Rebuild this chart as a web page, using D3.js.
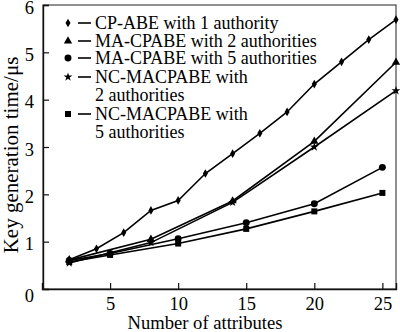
<!DOCTYPE html>
<html lang="en">
  <head>
    <meta charset="UTF-8" />
    <script src="https://cdnjs.cloudflare.com/ajax/libs/d3/7.8.5/d3.min.js"></script>
    <title>Key generation time</title>
    <style>
      body {
        margin: 0;
        background: white;
      }
      svg text {
        font-family: "Liberation Serif", "Times New Roman", Times, serif !important;
        fill: black;
      }
      .series {
        fill: none;
        stroke: black;
        stroke-width: 1.6;
      }
    </style>
  </head>
  <body>
    <script>
      const width = 400;
      const height = 332;

      // series values (key generation time, µs)
      const xCp = [2, 4, 6, 8, 10, 12, 14, 16, 18, 20, 22, 24, 26];
      const cpAbe = [0.62, 0.85, 1.19, 1.66, 1.87, 2.44, 2.86, 3.29, 3.74, 4.33, 4.8, 5.27, 5.69];
      const xEven = [2, 8, 14, 20, 26];
      const ma2 = [0.61, 1.05, 1.86, 3.12, 4.79];
      const nc2 = [0.55, 0.98, 1.83, 3.0, 4.19];
      const xFive = [2, 5, 10, 15, 20, 25];
      const ma5 = [0.6, 0.75, 1.06, 1.4, 1.8, 2.57];
      const nc5 = [0.57, 0.72, 0.96, 1.27, 1.64, 2.03];

      const xTicks = [5, 10, 15, 20, 25];
      const yTicks = [1, 2, 3, 4, 5, 6];

      const series = [
        { name: "CP-ABE with 1 authority", xs: xCp, ys: cpAbe, symbol: d3.symbolDiamond, size: 22 },
        { name: "MA-CPABE with 2 authorities", xs: xEven, ys: ma2, symbol: d3.symbolTriangle, size: 30 },
        { name: "MA-CPABE with 5 authorities", xs: xFive, ys: ma5, symbol: d3.symbolCircle, size: 38 },
        { name: "NC-MACPABE with", name2: "2 authorities", xs: xEven, ys: nc2, symbol: d3.symbolStar, size: 24 },
        { name: "NC-MACPABE with", name2: "5 authorities", xs: xFive, ys: nc5, symbol: d3.symbolSquare, size: 36 },
      ];

      const svg = d3
        .select("body")
        .append("svg")
        .attr("width", width)
        .attr("height", height);

      const x = d3.scaleLinear().domain([0, 26]).range([42, 396]);
      const y = d3.scaleLinear().domain([0, 6]).range([289, 5]);

      // frame
      svg
        .append("rect")
        .attr("x", x(0) + 1)
        .attr("y", y(6))
        .attr("width", x(26) - x(0) - 1)
        .attr("height", y(0) - y(6))
        .attr("fill", "none")
        .attr("stroke", "#222")
        .attr("stroke-width", 1);

      // axes with inward ticks
      const xAxis = svg
        .append("g")
        .attr("transform", `translate(0,${y(0)})`)
        .call(d3.axisBottom(x).tickValues(xTicks).tickFormat(d3.format("d")).tickSize(-6).tickPadding(8));
      const yAxis = svg
        .append("g")
        .attr("transform", `translate(${x(0) + 1},0)`)
        .call(d3.axisLeft(y).tickValues(yTicks).tickFormat(d3.format("d")).tickSize(-6).tickPadding(9));

      [xAxis, yAxis].forEach(function (g) {
        g.attr("font-family", null).attr("font-size", null);
        g.select(".domain").attr("stroke", "#111").attr("stroke-width", 1.4);
        g.selectAll(".tick line").attr("stroke", "#111").attr("stroke-width", 1.2);
        g.selectAll("text").style("font-size", "18.5px");
      });
      xAxis.selectAll("text").attr("dy", "0.68em");
      yAxis.selectAll("text").attr("dy", "0.45em");

      // "0" at the origin
      svg
        .append("text")
        .attr("x", 34)
        .attr("y", 302)
        .attr("text-anchor", "end")
        .style("font-size", "18.5px")
        .text("0");

      svg
        .append("text")
        .attr("x", 205)
        .attr("y", 329)
        .attr("text-anchor", "middle")
        .style("font-size", "18.6px")
        .text("Number of attributes");

      svg
        .append("text")
        .attr("transform", "translate(18,155) rotate(-90)")
        .attr("text-anchor", "middle")
        .style("font-size", "21px")
        .text("Key generation time/μs");

      const line = d3
        .line()
        .x(function (d) {
          return x(d[0]);
        })
        .y(function (d) {
          return y(d[1]);
        });

      series.forEach(function (s) {
        const pts = s.xs.map(function (v, i) {
          return [v, s.ys[i]];
        });
        svg.append("path").attr("class", "series").attr("d", line(pts));
        svg
          .append("g")
          .selectAll("path")
          .data(pts)
          .enter()
          .append("path")
          .attr("d", d3.symbol().type(s.symbol).size(s.size))
          .attr("transform", function (d) {
            return `translate(${x(d[0])},${y(d[1])})`;
          })
          .attr("fill", "black");
      });

      // legend
      const rows = [23, 41, 58, 77, 114];
      const legend = svg.append("g");
      series.forEach(function (s, i) {
        const ry = rows[i];
        legend
          .append("path")
          .attr("d", d3.symbol().type(s.symbol).size(s.size))
          .attr("transform", `translate(68,${ry})`)
          .attr("fill", "black");
        legend
          .append("line")
          .attr("x1", 78)
          .attr("x2", 91)
          .attr("y1", ry)
          .attr("y2", ry)
          .attr("stroke", "black")
          .attr("stroke-width", 1.6);
        legend
          .append("text")
          .attr("x", 95)
          .attr("y", ry + 5.5)
          .style("font-size", "18px")
          .text(s.name);
        if (s.name2) {
          legend
            .append("text")
            .attr("x", 95)
            .attr("y", ry + 23.5)
            .style("font-size", "18px")
            .text(s.name2);
        }
      });
    </script>
  </body>
</html>
